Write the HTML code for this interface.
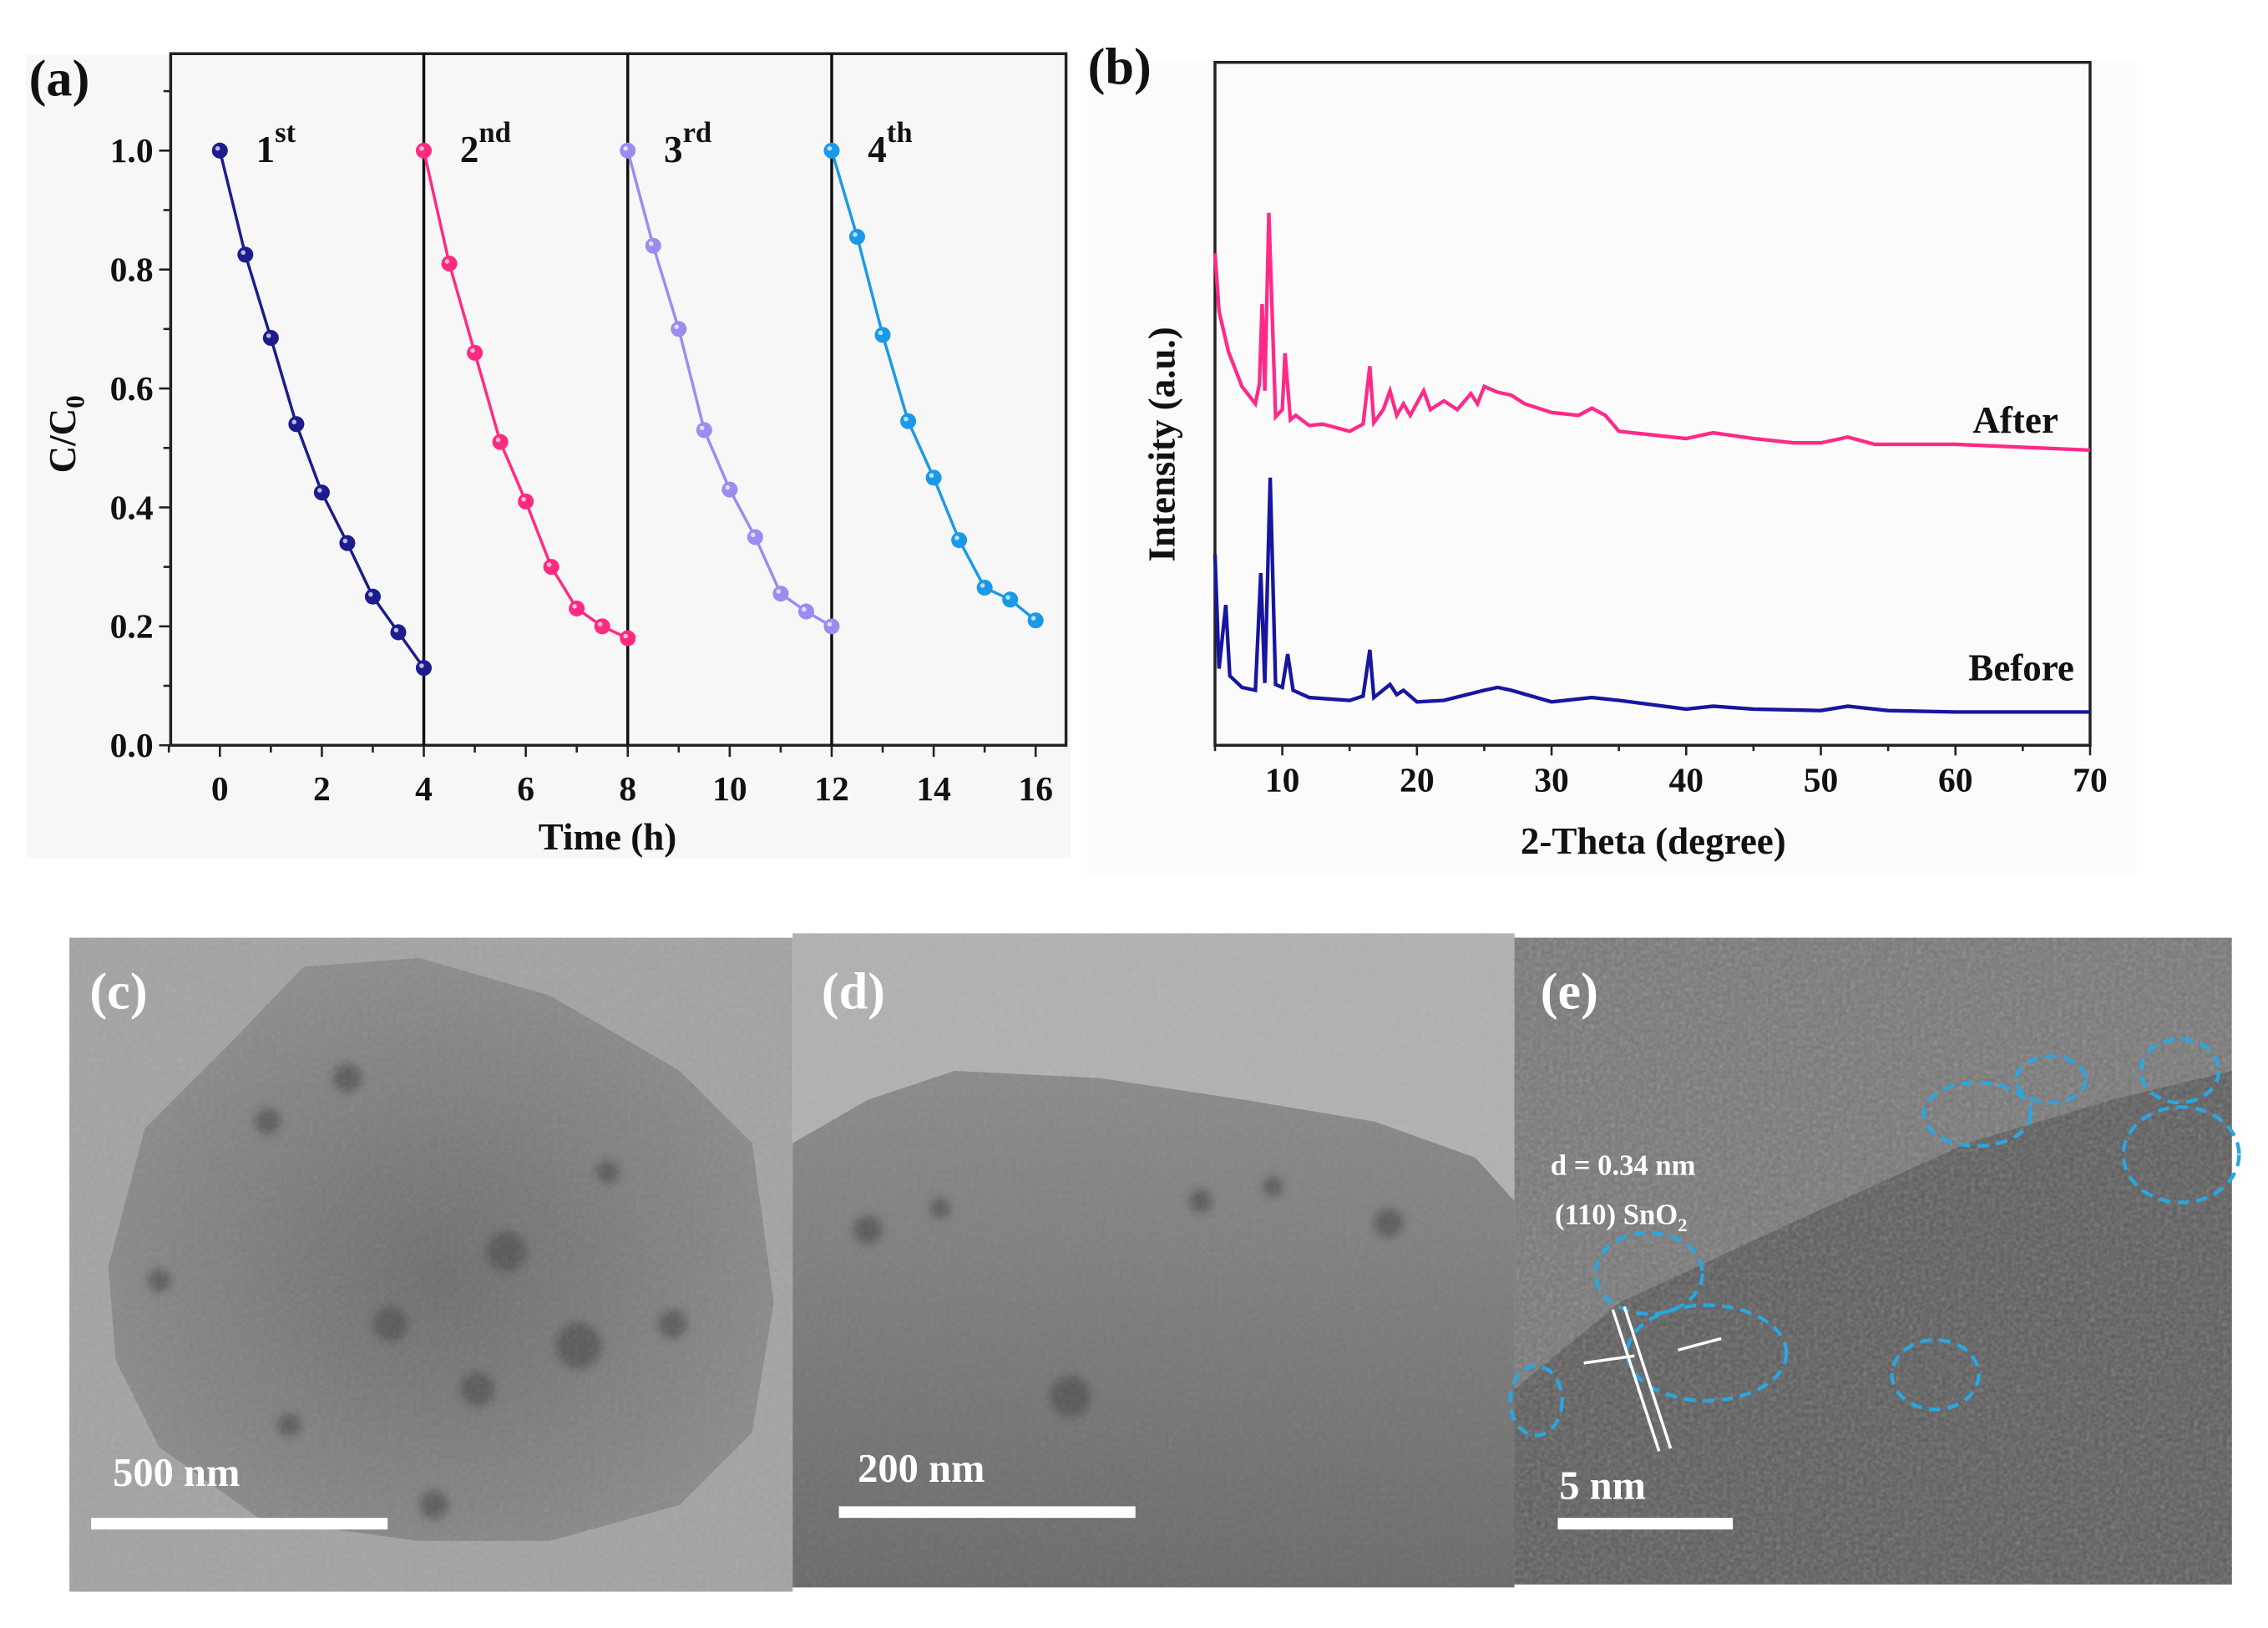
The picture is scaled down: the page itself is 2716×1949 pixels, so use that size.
<!DOCTYPE html>
<html><head><meta charset="utf-8"><style>
html,body{margin:0;padding:0;background:#fff;}
svg{display:block;font-family:"Liberation Serif",serif;font-weight:bold;}
</style></head><body>
<svg id="fig" width="2716" height="1949" viewBox="0 0 1568 1125" xmlns="http://www.w3.org/2000/svg">
<defs>
<filter id="noise" x="0" y="0" width="100%" height="100%"><feTurbulence type="fractalNoise" baseFrequency="0.35" numOctaves="2" seed="3"/><feColorMatrix type="saturate" values="0"/><feComponentTransfer><feFuncA type="linear" slope="0.55"/></feComponentTransfer></filter>
<filter id="blur8"><feGaussianBlur stdDeviation="8"/></filter>
<filter id="blur3"><feGaussianBlur stdDeviation="3"/></filter>
<radialGradient id="gc" cx="0.5" cy="0.55" r="0.6"><stop offset="0" stop-color="#6e6e6e"/><stop offset="1" stop-color="#8e8e8e"/></radialGradient>
<linearGradient id="gd" x1="0" y1="0" x2="0" y2="1"><stop offset="0" stop-color="#8a8a8a"/><stop offset="1" stop-color="#6a6a6a"/></linearGradient>
</defs>
<rect x="18" y="38" width="722" height="555" fill="#f7f7f7"/>
<rect x="752" y="42" width="725" height="562" fill="#fbfbfb"/>
<g id="pa"></g>
<g id="pb"></g>

<!-- TEM panels -->
<g>
<rect x="48" y="648" width="500" height="452" fill="#a3a3a3"/>
<path d="M75,875 L100,780 L160,720 L210,668 L290,662 L380,688 L470,740 L520,790 L535,900 L520,990 L470,1040 L380,1065 L290,1065 L180,1050 L110,1000 L80,940 Z" fill="url(#gc)"/>
<g fill="#4e4e4e" opacity="0.7" filter="url(#blur3)">
<circle cx="185" cy="775" r="9"/><circle cx="240" cy="745" r="10"/><circle cx="350" cy="865" r="14"/><circle cx="400" cy="930" r="16"/><circle cx="465" cy="915" r="10"/><circle cx="270" cy="915" r="12"/><circle cx="330" cy="960" r="12"/><circle cx="110" cy="885" r="8"/><circle cx="420" cy="810" r="8"/><circle cx="300" cy="1040" r="10"/><circle cx="200" cy="985" r="8"/></g>
<rect x="48" y="648" width="500" height="452" filter="url(#noise)" opacity="0.25"/>
<text x="62" y="697" font-size="36" fill="#fff">(c)</text>
<rect x="63" y="1049" width="205" height="8" fill="#fff"/>
<text x="78" y="1027" font-size="28" fill="#fff">500 nm</text>
</g>
<g>
<rect x="548" y="645" width="499" height="452" fill="#b1b1b1"/>
<path d="M548,790 L600,760 L660,740 L760,745 L860,760 L950,775 L1020,800 L1047,830 L1047,1097 L548,1097 Z" fill="url(#gd)"/>
<g fill="#4a4a4a" opacity="0.65" filter="url(#blur3)">
<circle cx="600" cy="850" r="10"/><circle cx="650" cy="835" r="7"/><circle cx="740" cy="965" r="14"/><circle cx="960" cy="845" r="10"/><circle cx="830" cy="830" r="8"/><circle cx="880" cy="820" r="7"/></g>
<rect x="548" y="645" width="499" height="452" filter="url(#noise)" opacity="0.2"/>
<text x="568" y="697" font-size="36" fill="#fff">(d)</text>
<rect x="580" y="1041" width="205" height="8" fill="#fff"/>
<text x="593" y="1024" font-size="28" fill="#fff">200 nm</text>
</g>
<g>
<rect x="1047" y="648" width="496" height="447" fill="#777"/>
<path d="M1047,960 L1120,900 L1250,840 L1360,790 L1460,760 L1543,740 L1543,1095 L1047,1095 Z" fill="#5c5c5c"/>
<rect x="1047" y="648" width="496" height="447" filter="url(#noise)" opacity="0.6"/>
<g fill="none" stroke="#2aa6e0" stroke-width="2.5" stroke-dasharray="8,5">
<ellipse cx="1140" cy="880" rx="37" ry="28"/><ellipse cx="1180" cy="935" rx="55" ry="33"/><ellipse cx="1062" cy="968" rx="18" ry="24"/>
<ellipse cx="1367" cy="770" rx="37" ry="22"/><ellipse cx="1418" cy="746" rx="24" ry="16"/><ellipse cx="1507" cy="740" rx="27" ry="22"/><ellipse cx="1508" cy="798" rx="40" ry="33"/><ellipse cx="1338" cy="950" rx="30" ry="24"/></g>
<g stroke="#fff" stroke-width="2"><line x1="1115" y1="905" x2="1147" y2="1003"/><line x1="1123" y1="903" x2="1155" y2="1001"/><line x1="1095" y1="942" x2="1130" y2="937"/><line x1="1190" y1="925" x2="1160" y2="933"/></g>
<text x="1065" y="697" font-size="36" fill="#fff">(e)</text>
<text x="1072" y="812" font-size="20" fill="#fff">d = 0.34 nm</text>
<text x="1075" y="846" font-size="20" fill="#fff">(110) SnO<tspan font-size="13" dy="5">2</tspan></text>
<rect x="1077" y="1049" width="121" height="8" fill="#fff"/>
<text x="1078" y="1036" font-size="28" fill="#fff">5 nm</text>
</g>
</svg>
<script>
// ---------- Panel (a) data ----------
const timeCycle = [0,0.5,1,1.5,2,2.5,3,3.5,4];
const cycleOffsets = [0,4,8,12];
const cycle1 = [1.0,0.825,0.685,0.54,0.425,0.34,0.25,0.19,0.13];
const cycle2 = [1.0,0.81,0.66,0.51,0.41,0.30,0.23,0.20,0.18];
const cycle3 = [1.0,0.84,0.70,0.53,0.43,0.35,0.255,0.225,0.20];
const cycle4 = [1.0,0.855,0.69,0.545,0.45,0.345,0.265,0.245,0.21];
const cycleLabels = ["1","2","3","4"];
const cycleSups = ["st","nd","rd","th"];
const aXTicks = [0,2,4,6,8,10,12,14,16];
const aYTicks = [0.0,0.2,0.4,0.6,0.8,1.0];
// ---------- Panel (b) data (2θ, relative intensity) ----------
const afterTheta = [5,5.3,6,7,8,8.3,8.5,8.7,9,9.5,10,10.2,10.6,11,12,13,15,16,16.5,16.8,17.5,18,18.5,19,19.5,20.5,21,22,23,24,24.5,25,26,27,28,30,32,33,34,35,37,40,42,45,48,50,52,54,56,60,65,70];
const afterVals  = [340,300,272,248,236,250,305,245,368,227,232,271,225,228,221,222,217,222,262,223,232,245,228,236,228,245,232,238,232,243,236,248,244,242,236,230,228,233,228,217,215,212,216,212,209,209,213,208,208,208,206,204];
const beforeTheta = [5,5.3,5.8,6.1,7,8,8.4,8.7,9.1,9.5,10,10.4,10.8,12,15,16,16.5,16.8,18,18.5,19,20,22,25,26,27,30,33,35,40,42,45,50,52,55,60,70];
const beforeVals  = [132,53,97,48,40,38,119,43,185,42,40,63,38,33,31,34,66,33,42,35,38,30,31,38,40,38,30,33,31,25,27,25,24,27,24,23,23];
const bXTicks = [10,20,30,40,50,60,70];

const NS="http://www.w3.org/2000/svg";
function mk(tag,attrs,parent){const e=document.createElementNS(NS,tag);for(const k in attrs)e.setAttribute(k,attrs[k]);parent.appendChild(e);return e;}

// ---- Panel a ----
const pa=document.getElementById('pa');
const aL=118,aR=737,aT=37,aB=515;
const ax=t=>152+(716-152)*t/16;
const ay=v=>515-(515-104)*v/1.0;
let e;
e=mk('rect',{x:aL,y:aT,width:aR-aL,height:aB-aT,fill:'none',stroke:'#222','stroke-width':2},pa);


for(let t=-1;t<=16;t++){const maj=t%2===0;mk('line',{x1:ax(t),x2:ax(t),y1:aB,y2:aB+(maj?8:5),stroke:'#222','stroke-width':1.5},pa);}
aXTicks.forEach(t=>{e=mk('text',{x:ax(t),y:aB+38,'font-size':24,'text-anchor':'middle',fill:'#111'},pa);e.textContent=t;

});
for(let i=0;i<=11;i++){const v=i*0.1;const maj=i%2===0;mk('line',{x1:aL,x2:aL-(maj?8:5),y1:ay(v),y2:ay(v),stroke:'#222','stroke-width':1.5},pa);}
aYTicks.forEach(v=>{e=mk('text',{x:aL-12,y:ay(v)+8,'font-size':24,'text-anchor':'end',fill:'#111'},pa);e.textContent=v.toFixed(1);

});
e=mk('text',{x:420,y:587,'font-size':26,'text-anchor':'middle',fill:'#111'},pa);e.textContent='Time (h)';


e=mk('text',{x:0,y:0,'font-size':26,'text-anchor':'middle',fill:'#111',transform:'translate(52,300) rotate(-90)'},pa);
e.innerHTML='C/C<tspan font-size="18" dy="6">0</tspan>';


e=mk('text',{x:20,y:66,'font-size':36,fill:'#111'},pa);e.textContent='(a)';


[4,8,12].forEach(t=>{e=mk('line',{x1:ax(t),x2:ax(t),y1:aT,y2:aB,stroke:'#111','stroke-width':2},pa);

});
const series=[cycle1,cycle2,cycle3,cycle4];
const colors=['#1c1c8e','#ff2a80','#9c8cf0','#1a9ae6'];
series.forEach((vals,si)=>{
  const pts=vals.map((v,i)=>[ax(timeCycle[i]+cycleOffsets[si]),ay(v)]);
  e=mk('polyline',{points:pts.map(p=>p.join(',')).join(' '),fill:'none',stroke:colors[si],'stroke-width':2},pa);
  
  
  pts.forEach(p=>{e=mk('circle',{cx:p[0],cy:p[1],r:5.5,fill:colors[si]},pa);
    
    
    mk('circle',{cx:p[0]-1.5,cy:p[1]-1.5,r:1.6,fill:'#fff',opacity:0.7},pa);});
  e=mk('text',{x:ax(cycleOffsets[si])+25,y:112,'font-size':26,fill:'#111'},pa);
  e.innerHTML=cycleLabels[si]+'<tspan font-size="20" dy="-14">'+cycleSups[si]+'</tspan>';
  
  
});
// ---- Panel b ----
const pb=document.getElementById('pb');
const bL=840,bR=1445,bT=43,bB=515;
const bx=th=>bL+(bR-bL)*(th-5)/65;
const by=v=>bB-v;
e=mk('rect',{x:bL,y:bT,width:bR-bL,height:bB-bT,fill:'none',stroke:'#222','stroke-width':2},pb);


for(let t=5;t<=70;t+=5){mk('line',{x1:bx(t),x2:bx(t),y1:bB,y2:bB+(t%10===0?7:4),stroke:'#222','stroke-width':1.5},pb);}
bXTicks.forEach(t=>{e=mk('text',{x:bx(t),y:bB+32,'font-size':24,'text-anchor':'middle',fill:'#111'},pb);e.textContent=t;

});
e=mk('text',{x:1143,y:590,'font-size':26,'text-anchor':'middle',fill:'#111'},pb);e.textContent='2-Theta (degree)';


e=mk('text',{x:0,y:0,'font-size':26,'text-anchor':'middle',fill:'#111',transform:'translate(812,307) rotate(-90)'},pb);e.textContent='Intensity (a.u.)';


e=mk('text',{x:752,y:58,'font-size':36,fill:'#111'},pb);e.textContent='(b)';


e=mk('polyline',{points:afterTheta.map((t,i)=>bx(t)+','+by(afterVals[i])).join(' '),fill:'none',stroke:'#ff2a88','stroke-width':2.5},pb);


e=mk('polyline',{points:beforeTheta.map((t,i)=>bx(t)+','+by(beforeVals[i])).join(' '),fill:'none',stroke:'#1616a0','stroke-width':2.5},pb);


e=mk('text',{x:1423,y:299,'font-size':26,'text-anchor':'end',fill:'#111'},pb);e.textContent='After';


e=mk('text',{x:1434,y:470,'font-size':26,'text-anchor':'end',fill:'#111'},pb);e.textContent='Before';


</script>
</body></html>
